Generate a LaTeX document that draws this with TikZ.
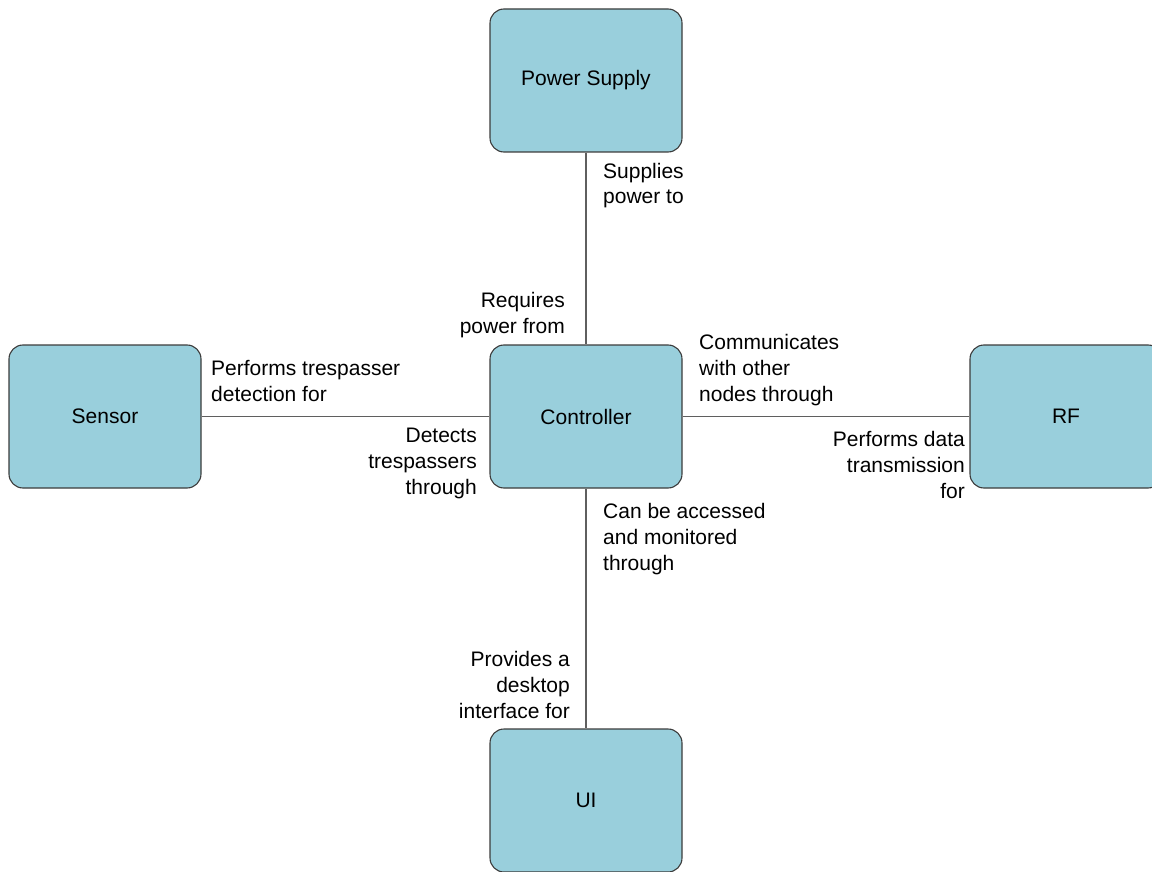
\documentclass[tikz,border=0pt]{standalone}
\usepackage{fontspec}
\setmainfont{Liberation Sans}
\definecolor{boxfill}{HTML}{99CFDC}
\definecolor{boxline}{HTML}{3C3C3C}
\definecolor{linkline}{HTML}{5F5F5F}
\begin{document}
\begin{tikzpicture}[x=1pt,y=-1pt,
  every node/.style={font=\fontsize{21}{25.7}\selectfont},
  block/.style={draw=boxline, fill=boxfill, line width=1.1pt, rounded corners=14pt,
    minimum width=192pt, minimum height=143pt, inner sep=0pt},
  link/.style={draw=linkline, line width=1.5pt},
  lblL/.style={anchor=base west, align=left, inner sep=0pt},
  lblR/.style={anchor=base east, align=right, inner sep=0pt}]
\useasboundingbox (0,0) rectangle (1152,872);

% components
\node[block] (ps)   at (586,80.5)  {Power Supply};
\node[block] (ctrl) at (586,416.5) {Controller};
\node[block] (sen)  at (105,416.5) {Sensor};
\node[block] (rf)   at (1066,416.5) {RF};
\node[block] (ui)   at (586,800.5) {UI};

% relations
\draw[link] (ps) -- (ctrl);
\draw[link] (sen) -- (ctrl);
\draw[link] (ctrl) -- (rf);
\draw[link] (ctrl) -- (ui);

% relation labels (anchored at the baseline of the last line)
\node[lblL] (l1) at (603,204) {Supplies\\power to};
\node[lblR] (l2) at (565,333) {Requires\\power from};
\node[lblL] (l3) at (699,401) {Communicates\\with other\\nodes through};
\node[lblL] (l4) at (211,401) {Performs trespasser\\detection for};
\node[lblR] (l5) at (477,494) {Detects\\trespassers\\through};
\node[lblR] (l6) at (965,498) {Performs data\\transmission\\for};
\node[lblL] (l7) at (603,570) {Can be accessed\\and monitored\\through};
\node[lblR] (l8) at (570,718) {Provides a\\desktop\\interface for};
\end{tikzpicture}
\end{document}
